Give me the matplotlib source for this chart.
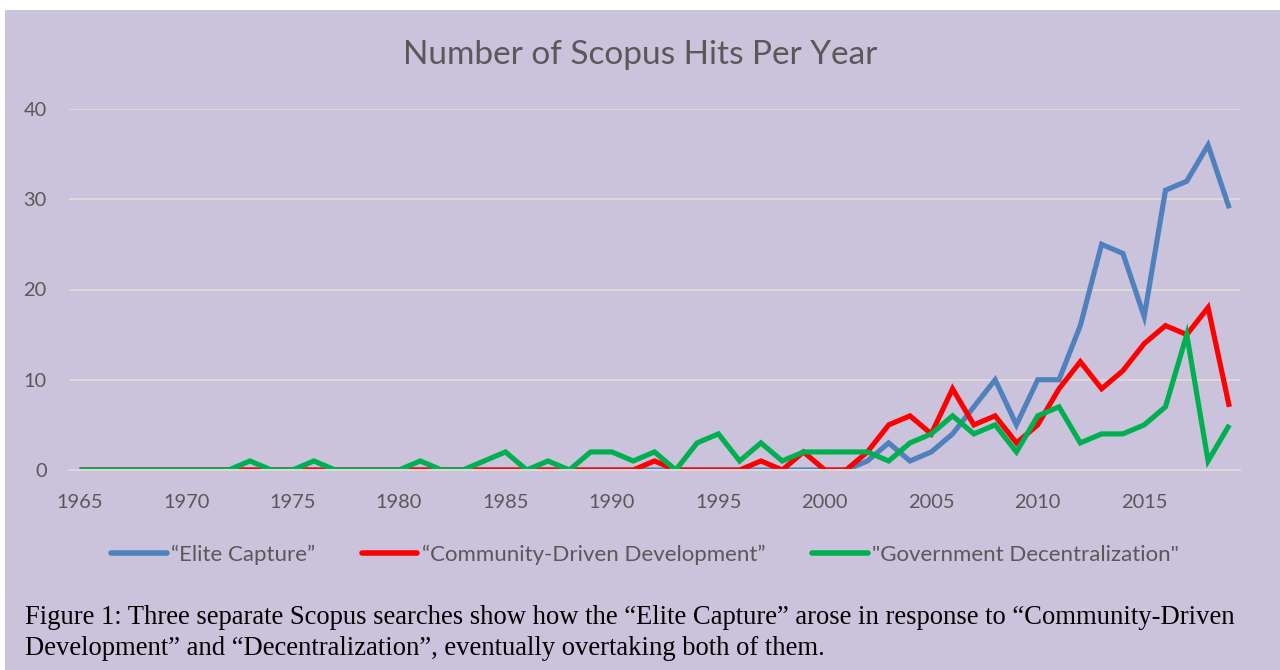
import matplotlib.pyplot as plt
import numpy as np

# Scopus hits per year
years = np.arange(1965, 2020)

elite_capture = [0] * 37 + [1, 3, 1, 2, 4, 7, 10, 5, 10, 10, 16, 25, 24, 17, 31, 32, 36, 29]

community_driven = ([0] * 27 + [1, 0, 0, 0, 0, 1, 0, 2, 0, 0, 2, 5, 6, 4, 9, 5, 6, 3, 5, 9, 12, 9, 11,
                                14, 16, 15, 18, 7])

gov_decentral = ([0] * 8 + [1, 0, 0, 1, 0, 0, 0, 0, 1, 0, 0, 1, 2, 0, 1, 0, 2, 2, 1, 2, 0, 3, 4, 1, 3, 1,
                            2, 2, 2, 2, 1, 3, 4, 6, 4, 5, 2, 6, 7, 3, 4, 4, 5, 7, 15, 1, 5])

labels = ['\u201cElite Capture\u201d', '\u201cCommunity-Driven Development\u201d',
          '"Government Decentralization"']
colors = ['#4F81BD', '#FF0000', '#00B050']

title = 'Number of Scopus Hits Per Year'
caption = ('Figure 1: Three separate Scopus searches show how the \u201cElite Capture\u201d arose in response '
           'to \u201cCommunity-Driven\nDevelopment\u201d and \u201cDecentralization\u201d, eventually '
           'overtaking both of them.')

bg = '#CBC2DB'
grey = '#595959'

fig = plt.figure(figsize=(12.8, 6.7), dpi=100)
fig.patch.set_facecolor('white')
# purple panel, leaving a thin white margin top and left like the screenshot
fig.patches.append(plt.Rectangle((5 / 1280, 0), 1 - 5 / 1280, 1 - 10 / 670,
                                 transform=fig.transFigure, facecolor=bg, edgecolor='none', zorder=-10))

ax = fig.add_axes([69 / 1280, 1 - 470 / 670, (1240 - 69) / 1280, (470 - 109) / 670])
ax.set_facecolor(bg)
ax.patch.set_alpha(0)

for series, lab, c in zip([elite_capture, community_driven, gov_decentral], labels, colors):
    ax.plot(years, series, color=c, lw=3.7, label=lab, solid_joinstyle='miter', solid_capstyle='butt')

ax.set_xlim(1964.5, 2019.5)
ax.set_ylim(0, 40)
ax.set_yticks([0, 10, 20, 30, 40])
ax.set_xticks(np.arange(1965, 2020, 5))
ax.grid(axis='y', color='#D9D9D9', lw=1.5)
ax.set_axisbelow(True)
for s in ['top', 'right', 'left']:
    ax.spines[s].set_visible(False)
ax.spines['bottom'].set_color('#D9D9D9')
ax.spines['bottom'].set_linewidth(1.5)
ax.tick_params(length=0, labelsize=14.4, labelcolor=grey)
ax.tick_params(axis='x', pad=17)
ax.tick_params(axis='y', pad=16)
for t in ax.get_xticklabels() + ax.get_yticklabels():
    t.set_family('Lato')

fig.text(0.5, 1 - 55 / 670, title, ha='center', va='center', fontsize=24, color=grey, family='Lato')

leg = fig.legend(loc='center', bbox_to_anchor=(645 / 1280, 1 - 555 / 670), ncol=3, frameon=False,
                 prop={'family': 'Lato', 'size': 16}, handlelength=2.5, handletextpad=0.2,
                 columnspacing=2.1)
for t in leg.get_texts():
    t.set_color(grey)
for h in leg.legend_handles:
    h.set_linewidth(4)
    h.set_solid_capstyle('round')

fig.text(25 / 1280, 1 - 633 / 670, caption, ha='left', va='center', fontsize=19.2,
         family='Liberation Serif', color='black', linespacing=1.3)

fig.savefig('out.png', dpi=100, facecolor=fig.get_facecolor())
